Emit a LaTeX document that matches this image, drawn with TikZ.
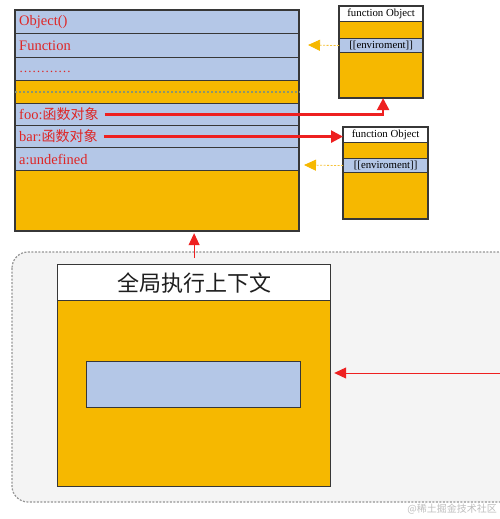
\documentclass[tikz,border=0pt]{standalone}
\usepackage{fontspec}
\setmainfont{Liberation Serif}
\newfontfamily\cjk{Noto Sans CJK SC}
\usetikzlibrary{arrows.meta}
\definecolor{orng}{RGB}{246,184,0}
\definecolor{lblue}{RGB}{180,199,231}
\definecolor{bord}{RGB}{55,55,55}
\definecolor{redt}{RGB}{222,38,38}
\definecolor{reda}{RGB}{238,32,32}
\definecolor{yel}{RGB}{246,196,60}
\definecolor{yelh}{RGB}{246,184,0}
\definecolor{cbg}{RGB}{244,244,244}
\definecolor{cbd}{RGB}{150,150,150}
\begin{document}
\begin{tikzpicture}[x=1pt,y=-1pt,
  box/.style={draw=bord,line width=1.2pt,rectangle,inner sep=0pt,anchor=north west},
  row/.style={box,fill=lblue,minimum width=283pt,minimum height=#1},
  orow/.style={box,fill=orng,minimum width=283pt,minimum height=#1},
  lbl/.style={anchor=west,text=redt,inner sep=2pt,font=\fontsize{14.5}{16}\selectfont},
  fbox/.style={box,fill=orng,minimum width=#1,minimum height=91pt},
  fhead/.style={box,fill=white,minimum height=15pt,font=\fontsize{10.8}{12}\selectfont},
  fenv/.style={box,fill=lblue,minimum height=14pt,font=\fontsize{10.8}{12}\selectfont},
  redarr/.style={draw=reda,line width=2.5pt,-{Triangle[length=12pt,width=12pt]}},
  thinred/.style={draw=reda,line width=1pt,-{Triangle[length=12pt,width=11pt]}},
  yelarr/.style={draw=yel,line width=0.8pt,dash pattern=on 2pt off 1.5pt,-{Triangle[length=12pt,width=11pt,color=yelh,fill=yelh]}},
]
\useasboundingbox (0,0) rectangle (500,519);
\clip (0,0) rectangle (500,519);
\fill[white] (0,0) rectangle (500,519);

% left context box
\node[orow=220pt] (ctx) at (15,10) {};
\node[row=23pt] (r1) at (15,10) {};
\node[row=24pt] (r2) at (15,33) {};
\node[row=23pt] (r3) at (15,57) {};
\node[orow=23pt] (r4) at (15,80) {};
\node[row=22pt] (r5) at (15,103) {};
\node[row=22pt] (r6) at (15,125) {};
\node[row=23pt] (r7) at (15,147) {};
\draw[draw=bord,line width=1.2pt] (ctx.north west) rectangle (ctx.south east);
\draw[color={rgb,255:red,140;green,150;blue,110},line width=1.4pt,dash pattern=on 2pt off 2pt] (r4.west) -- (r4.east);

\node[lbl] (t1) at ([xshift=2pt]r1.west) {Object()};
\node[lbl] (t2) at ([xshift=2pt]r2.west) {Function};
\node[lbl] (t3) at ([xshift=2pt,yshift=-3pt]r3.west) {\fontsize{13}{15}\selectfont …………};
\node[lbl] (t5) at ([xshift=2pt]r5.west) {foo:{\cjk\fontsize{14}{16}\selectfont 函数对象}};
\node[lbl] (t6) at ([xshift=2pt]r6.west) {bar:{\cjk\fontsize{14}{16}\selectfont 函数对象}};
\node[lbl] (t7) at ([xshift=2pt]r7.west) {a:undefined};

% function object 1
\node[fbox=83pt] (fo1) at (339,6) {};
\node[fhead,minimum width=83pt] (fh1) at (339,6) {function Object};
\node[fenv,minimum width=83pt] (fe1) at (339,38) {[[enviroment]]};
\draw[draw=bord,line width=1.2pt] (fo1.north west) rectangle (fo1.south east);

% function object 2
\node[fbox=84pt] (fo2) at (343,127) {};
\node[fhead,minimum width=84pt] (fh2) at (343,127) {function Object};
\node[fenv,minimum width=84pt] (fe2) at (343,158) {[[enviroment]]};
\draw[draw=bord,line width=1.2pt] (fo2.north west) rectangle (fo2.south east);

% arrows from foo / bar
\draw[redarr,shorten <=4pt] (t5.east) -| ([xshift=2pt]fo1.south);
\draw[redarr,shorten <=4pt] (t6.east) -- (t6.east -| fo2.west);

% environment arrows
\coordinate (y1) at (308,45);
\coordinate (y2) at (304,165);
\draw[yelarr] (fe1.west) -- (y1);
\draw[yelarr] (fe2.west) -- (y2);

% bottom container
\draw[fill=cbg,draw=cbd,line width=1.2pt,dash pattern=on 2pt off 1.5pt,rounded corners=16pt] (12,252) rectangle (540,502);
\node[box,fill=orng,minimum width=273pt,minimum height=222pt] (gbox) at (57,264) {};
\node[box,fill=white,minimum width=273pt,minimum height=36pt,font=\cjk\fontsize{22}{24}\selectfont,text={rgb,255:red,30;green,30;blue,30}] (ghead) at (57,264) {全局执行上下文};
\node[box,fill=lblue,minimum width=214pt,minimum height=46pt] (gin) at (86,361) {};

\draw[thinred,shorten <=6pt,shorten >=2pt] (gbox.north) -- (gbox.north |- ctx.south);
\coordinate (rs) at (500,373);
\draw[thinred,shorten >=3pt] (rs) -- (rs -| gbox.east);

\node[anchor=east,inner sep=0pt,text={rgb,255:red,190;green,190;blue,190},font=\cjk\fontsize{10}{12}\selectfont] (wm) at (497,509) {@稀土掘金技术社区};
\end{tikzpicture}
\end{document}
